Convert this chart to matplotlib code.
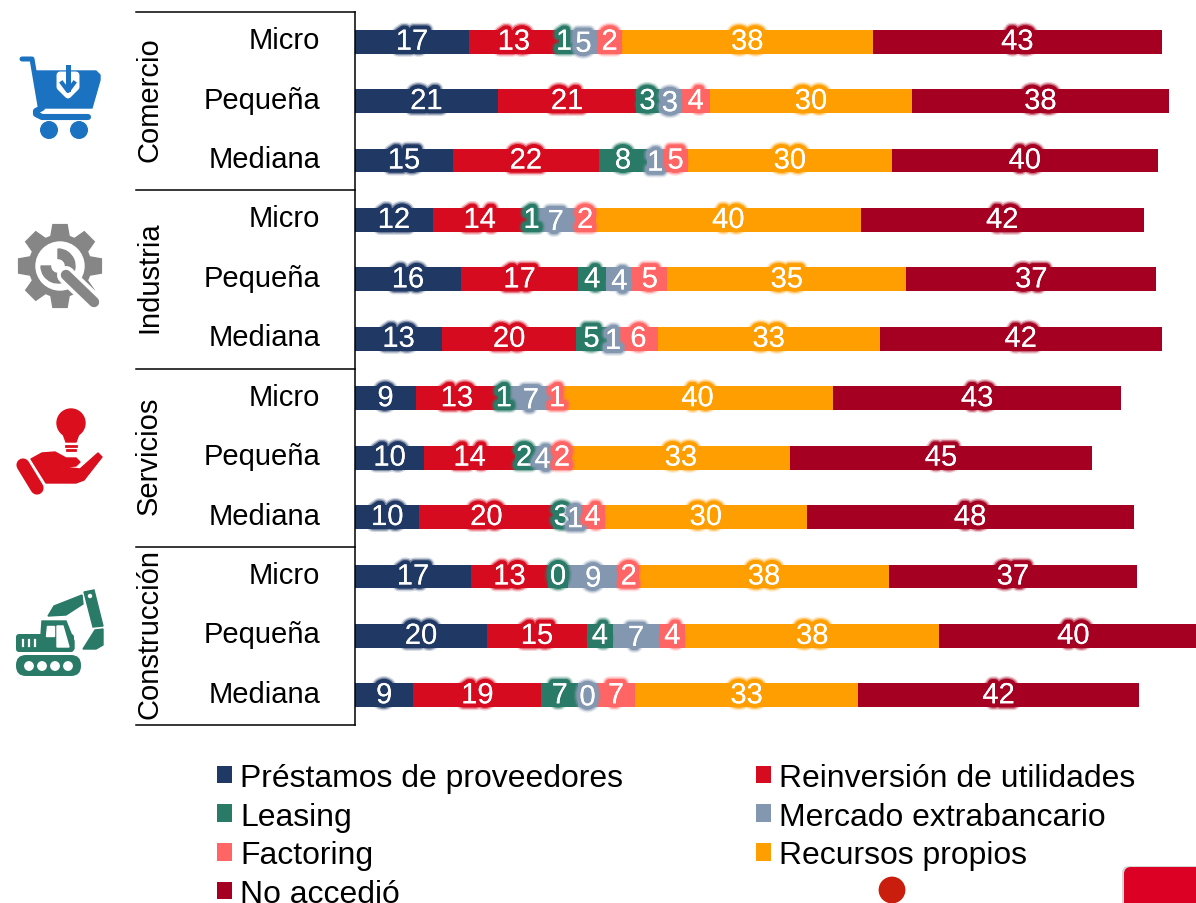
import numpy as np
import matplotlib
matplotlib.use("Agg")
import matplotlib.pyplot as plt
import matplotlib.patheffects as pe
from matplotlib.patches import Circle, FancyBboxPatch, Polygon, Wedge
from matplotlib.transforms import ScaledTranslation

plt.rcParams["font.family"] = ["Liberation Sans", "DejaVu Sans"]

sectores = ["Comercio", "Industria", "Servicios", "Construcción"]
tamanos = ["Micro", "Pequeña", "Mediana"] * 4
series = ["Préstamos de proveedores", "Reinversión de utilidades", "Leasing",
          "Mercado extrabancario", "Factoring", "Recursos propios", "No accedió"]
colores = ["#1F3864", "#D60B1F", "#2A7A68", "#8497B0", "#FF6565", "#FF9E00", "#A50021"]

# largo de cada barra
prestamos = [17.0, 21.3, 14.6, 11.6, 15.8, 13.0, 9.1, 10.3, 9.6, 17.3, 19.7, 8.7]
reinversion = [13.4, 20.7, 21.8, 14.0, 17.5, 20.0, 12.2, 13.6, 20.0, 11.5, 14.9, 19.1]
leasing = [1.6, 3.3, 7.2, 1.5, 4.2, 4.6, 1.8, 2.7, 2.5, 3.0, 3.9, 5.5]
extrabancario = [4.2, 3.4, 2.4, 5.7, 3.9, 1.8, 6.3, 2.8, 1.5, 7.5, 6.9, 2.8]
factoring = [3.6, 4.3, 3.7, 3.1, 5.2, 5.8, 1.5, 3.0, 3.7, 3.1, 3.9, 5.7]
recursos = [37.5, 30.1, 30.4, 39.6, 35.7, 33.1, 40.4, 32.5, 30.1, 37.3, 37.9, 33.3]
no_accedio = [43.1, 38.4, 39.7, 42.2, 37.3, 42.1, 43.1, 45.1, 48.8, 37.0, 40.0, 41.9]

# numeros impresos sobre las barras
et_prestamos = [17, 21, 15, 12, 16, 13, 9, 10, 10, 17, 20, 9]
et_reinversion = [13, 21, 22, 14, 17, 20, 13, 14, 20, 13, 15, 19]
et_leasing = [1, 3, 8, 1, 4, 5, 1, 2, 3, 0, 4, 7]
et_extrabancario = [5, 3, 1, 7, 4, 1, 7, 4, 1, 9, 7, 0]
et_factoring = [2, 4, 5, 2, 5, 6, 1, 2, 4, 2, 4, 7]
et_recursos = [38, 30, 30, 40, 35, 33, 40, 33, 30, 38, 38, 33]
et_no_accedio = [43, 38, 40, 42, 37, 42, 43, 45, 48, 37, 40, 42]

valores = [prestamos, reinversion, leasing, extrabancario, factoring, recursos, no_accedio]
etiquetas = [et_prestamos, et_reinversion, et_leasing, et_extrabancario,
             et_factoring, et_recursos, et_no_accedio]

W, H = 1196, 904
fig = plt.figure(figsize=(W / 100, H / 100), dpi=100)
ax = fig.add_axes([355 / W, 1 - 726 / H, (W - 355) / W, (725 - 12) / H])

y = np.arange(12)
izquierda = np.zeros(12)
textos = []
for serie, vals, etqs, color in zip(series, valores, etiquetas, colores):
    vals = np.array(vals)
    ax.barh(y, vals, left=izquierda, height=0.4, color=color, label=serie, zorder=2)
    centros = izquierda + vals / 2
    for yi, c, e in zip(y, centros, etqs):
        textos.append((c, yi, e, color, serie))
    izquierda += vals

for c, yi, e, color, serie in textos:
    desplaz = -1.5 if serie == "Mercado extrabancario" else 0
    ax.annotate(str(e), (c, yi), xytext=(0, desplaz), textcoords="offset points",
                ha="center", va="center", color="white", fontsize=21, zorder=5,
                path_effects=[pe.withStroke(linewidth=10, foreground=color, alpha=0.2),
                              pe.withStroke(linewidth=8, foreground=color, alpha=0.45),
                              pe.withStroke(linewidth=6, foreground=color),
                              pe.Normal()])

ax.set_xlim(0, (W - 355) / 6.7)
ax.set_ylim(11.5, -0.5)
ax.set_xticks([])
ax.set_yticks(y)
ax.set_yticklabels(tamanos, fontsize=21)
ax.tick_params(axis="y", length=0, pad=25)
# las etiquetas van un poco por encima del centro de la barra
subir = ScaledTranslation(0, 4.5 / 100, fig.dpi_scale_trans)
for etq in ax.get_yticklabels():
    etq.set_transform(etq.get_transform() + subir)
for lado in ["top", "right", "bottom"]:
    ax.spines[lado].set_visible(False)
ax.spines["left"].set_linewidth(1.1)
ax.patch.set_alpha(0)

# lineas y nombres de los sectores
x_linea = (136 - 355) / (W - 355)
x_sector = (149 - 355) / (W - 355)
tr = ax.get_yaxis_transform()
for i in range(5):
    ax.plot([x_linea, 0], [3 * i - 0.5] * 2, color="black", lw=1.1, transform=tr, clip_on=False)
for i, s in enumerate(sectores):
    ax.text(x_sector, 3 * i + 0.95, s, rotation=90, ha="center", va="center",
            fontsize=21, transform=tr)

orden = [0, 2, 4, 6, 1, 3, 5]
h, l = ax.get_legend_handles_labels()
fig.legend([h[i] for i in orden], [l[i] for i in orden], ncol=2, frameon=False,
           loc="upper left", bbox_to_anchor=(217 / W, 1 - 764 / H), borderpad=0,
           borderaxespad=0, fontsize=22.95, handlelength=0.47, handleheight=0.47,
           handletextpad=0.25, labelspacing=0.27, columnspacing=4.17)

# iconos y adornos, en pixeles de la imagen
ic = fig.add_axes([0, 0, 1, 1], zorder=3)
ic.set_xlim(0, W)
ic.set_ylim(H, 0)
ic.axis("off")

azul = "#1B72C0"
ic.plot([22, 32, 40], [60, 60, 107], color=azul, lw=3.6, solid_capstyle="round", solid_joinstyle="round")
ic.add_patch(Polygon([(33, 72), (96, 72), (100, 76), (100, 81), (92, 109), (40, 109)], color=azul, joinstyle="round", lw=1))
ic.add_patch(Polygon([(60, 76), (76, 76), (76, 88), (68, 96), (60, 88)], color="white", lw=5, joinstyle="round"))
ic.plot([68, 68], [68, 90], color=azul, lw=3.6)
ic.plot([62, 68, 74], [84, 92, 84], color=azul, lw=3)
ic.plot([88, 42, 36, 36, 42], [118, 118, 115, 112, 109], color=azul, lw=4.4, solid_capstyle="round")
ic.add_patch(Circle((49, 131), 8.3, color=azul))
ic.add_patch(Circle((79, 131), 8.3, color=azul))

gris = "#868686"
cx, cy = 60, 267
dientes = []
for k in range(8):
    a = np.pi / 2 + k * np.pi / 4
    for da, r in [(-0.3, 31), (-0.17, 42), (0.17, 42), (0.3, 31)]:
        dientes.append((cx + r * np.cos(a + da), cy + r * np.sin(a + da)))
ic.add_patch(Polygon(dientes, color=gris))
ic.add_patch(Circle((cx, cy), 24, color="white"))
ic.plot([66, 94], [276, 303], color="white", lw=13, solid_capstyle="round")
ic.plot([66, 94], [276, 303], color=gris, lw=7.5, solid_capstyle="round")
ic.add_patch(Wedge((58, 267), 17, 270, 540, width=9.5, color=gris))

rojo = "#DA0E1D"
ic.add_patch(Circle((71, 424), 14, color=rojo))
ic.add_patch(Polygon([(62, 432), (80, 432), (76, 443), (66, 443)], color=rojo))
ic.plot([66, 76], [447, 447], color=rojo, lw=2)
ic.plot([67, 75], [451, 451], color=rojo, lw=2)
ic.plot([23, 37], [466, 489], color=rojo, lw=9.5, solid_capstyle="round")
ic.add_patch(Polygon([(31, 460), (42, 454), (55, 453), (66, 459), (76, 459), (80, 463), (76, 467),
                      (62, 468), (80, 470), (98, 454), (102, 458), (84, 481), (76, 484), (46, 484)],
                     color=rojo, joinstyle="round", lw=1))

verde = "#2A7A68"
ic.add_patch(FancyBboxPatch((16, 656), 65, 21, boxstyle="round,pad=0,rounding_size=10", color=verde, lw=0))
for xr in [29, 42, 55, 68]:
    ic.add_patch(Circle((xr, 667), 4.2, color="white"))
ic.add_patch(FancyBboxPatch((16, 635), 58, 18, boxstyle="round,pad=0,rounding_size=3", color=verde, lw=0))
ic.add_patch(Polygon([(42, 622), (66, 622), (74, 642), (74, 650), (40, 650)], color=verde))
ic.add_patch(Polygon([(47, 627), (54, 627), (54, 637), (46, 637)], color="white"))
ic.add_patch(Polygon([(57, 627), (63, 627), (69, 648), (57, 648)], color="white"))
for xr in [23, 29, 35]:
    ic.plot([xr, xr], [641, 647], color="white", lw=1.6)
ic.add_patch(Polygon([(48, 617), (54, 607), (82, 596), (83, 605), (66, 616)], color=verde))
ic.add_patch(Polygon([(84, 593), (94, 591), (103, 627), (93, 628)], color=verde))
ic.add_patch(Polygon([(95, 631), (103, 630), (103, 646), (96, 650), (83, 650)], color=verde))
ic.add_patch(Circle((90, 597), 1.5, color="white"))

ic.add_patch(Circle((892, 891), 12.7, color="#C91E0E"))
ic.add_patch(FancyBboxPatch((1122, 867), 100, 60, boxstyle="round,pad=0,rounding_size=7",
                            color="#BBBBBB", alpha=0.6, lw=0))
ic.add_patch(FancyBboxPatch((1124, 868), 100, 60, boxstyle="round,pad=0,rounding_size=7",
                            color="#DC0024", lw=0))

fig.savefig("out.png", dpi=100)
plt.close(fig)
